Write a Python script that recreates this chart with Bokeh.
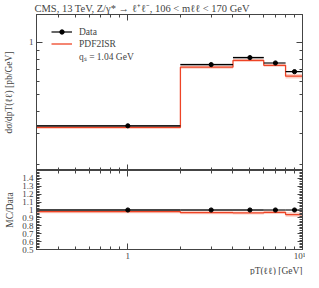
from bokeh.plotting import figure
from bokeh.layouts import column
from bokeh.models import (FixedTicker, LogAxis, LinearAxis, Title, Legend, LegendItem,
                          CustomJSTickFormatter, Range1d)
from bokeh.embed import file_html
from bokeh.resources import INLINE

# ---- data ----
bin_edges = [0.0, 2.0, 4.0, 6.0, 8.0, 10.0]
bin_centers = [1.0, 3.0, 5.0, 7.0, 9.0]
data_vals = [0.333, 0.745, 0.817, 0.761, 0.679]
data_rel_err = [0.012, 0.010, 0.010, 0.004, 0.004]
mc_vals = [0.326, 0.720, 0.787, 0.738, 0.640]
mc_rel_err = [0.02, 0.02, 0.02, 0.02, 0.03]
main_minor_ticks = [0.2, 0.3, 0.4, 0.5, 0.6, 0.7, 0.8, 0.9]
main_major_ticks = [1.0]
x_major_ticks = [1.0, 10.0]
x_minor_ticks = [0.3, 0.4, 0.5, 0.6, 0.7, 0.8, 0.9, 2, 3, 4, 5, 6, 7, 8, 9]
ratio_major_ticks = [0.5, 0.6, 0.7, 0.8, 0.9, 1.0, 1.1, 1.2, 1.3, 1.4]
ratio_minor_ticks = [round(0.5 + 0.02 * i, 2) for i in range(51)]
title_text = "CMS, 13 TeV, Z/γ* → ℓ⁺ℓ⁻, 106 < mℓℓ < 170 GeV"
ylabel_main = "dσ/dpT(ℓℓ) [pb/GeV]"
ylabel_ratio = "MC/Data"
xlabel = "pT(ℓℓ) [GeV]"
legend_labels = ["Data", "PDF2ISR", "qₛ = 1.04 GeV"]

XMIN, XMAX = 0.3, 10.0
RMIN, RMAX = 0.5, 1.5
FONT = "Liberation Serif"
RED = "#ee4426"
PALE = "#fbc4b8"
GREY = "#8a8a8a"
AXC = "#444444"

lo = [max(e, 1e-3) for e in bin_edges[:-1]]
hi = bin_edges[1:]
step_x = [max(e, 1e-3) for e in bin_edges]

x_range = Range1d(XMIN, XMAX)

def style_axis(ax, labels=True, major_in=6, minor_in=3):
    ax.major_tick_in = major_in
    ax.major_tick_out = 0
    ax.minor_tick_in = minor_in
    ax.minor_tick_out = 0
    ax.axis_line_color = AXC
    ax.major_tick_line_color = AXC
    ax.minor_tick_line_color = AXC
    ax.major_label_text_font = FONT
    ax.major_label_text_font_size = "9px"
    ax.major_label_standoff = 3
    if not labels:
        ax.major_label_text_alpha = 0
        ax.major_label_text_font_size = "1px"
        ax.major_label_standoff = 0
    ax.axis_label_text_font = FONT
    ax.axis_label_text_font_size = "9.5px"
    ax.axis_label_text_font_style = "normal"

# ---- main figure ----
p = figure(frame_width=266, frame_height=156, x_axis_type="log", y_axis_type="log",
           x_range=x_range, y_range=(0.185, 1.44), output_backend="svg",
           toolbar_location=None, min_border_left=32, min_border_right=5,
           min_border_top=0, min_border_bottom=0)
p.xgrid.visible = False
p.ygrid.visible = False
p.outline_line_color = AXC
p.title.text = title_text
p.title.align = "left"
p.title.offset = -2
p.title.standoff = 1
p.title.text_font = FONT
p.title.text_font_size = "10.5px"
p.title.text_font_style = "normal"

ylt = FixedTicker(ticks=main_major_ticks, minor_ticks=main_minor_ticks)
xt = FixedTicker(ticks=x_major_ticks, minor_ticks=x_minor_ticks)
p.yaxis.ticker = ylt
p.yaxis.major_label_overrides = {1: "1"}
p.yaxis.axis_label = ylabel_main
style_axis(p.yaxis[0])
p.yaxis.axis_label_standoff = 12
p.xaxis.ticker = xt
style_axis(p.xaxis[0], labels=False)
ra = LogAxis(ticker=ylt)
style_axis(ra, labels=False)
p.add_layout(ra, "right")
ta = LogAxis(ticker=xt)
style_axis(ta, labels=False)
p.add_layout(ta, "above")

mc_lo = [v * (1 - e) for v, e in zip(mc_vals, mc_rel_err)]
mc_hi = [v * (1 + e) for v, e in zip(mc_vals, mc_rel_err)]
p.quad(left=lo, right=hi, bottom=mc_lo, top=mc_hi, fill_color=PALE, line_color=None, fill_alpha=0.8)
d_lo = [v * (1 - e) for v, e in zip(data_vals, data_rel_err)]
d_hi = [v * (1 + e) for v, e in zip(data_vals, data_rel_err)]
p.quad(left=lo, right=hi, bottom=d_lo, top=d_hi, fill_color=GREY, line_color=None)
mc_line = p.step(x=step_x, y=mc_vals + [mc_vals[-1]], mode="after", line_color=RED, line_width=1.3)
d_line = p.segment(x0=lo, x1=hi, y0=data_vals, y1=data_vals, line_color="black", line_width=1.2)
p.segment(x0=bin_centers, x1=bin_centers, y0=d_lo, y1=d_hi, line_color="black", line_width=1)
d_pts = p.scatter(x=bin_centers, y=data_vals, size=4.2, color="black")
dummy = p.scatter(x=[1.0], y=[1.0], size=1, alpha=0)

legend = Legend(items=[LegendItem(label=legend_labels[0], renderers=[d_line, d_pts]),
                       LegendItem(label=legend_labels[1], renderers=[mc_line]),
                       LegendItem(label=legend_labels[2], renderers=[dummy])],
                location=(15, 107), margin=0, padding=3, spacing=1,
                glyph_width=21, glyph_height=11, label_height=11, label_standoff=7,
                label_text_font=FONT, label_text_font_size="9.5px",
                background_fill_alpha=0, border_line_color=None)
p.add_layout(legend)

# ---- ratio figure ----
r = figure(frame_width=266, frame_height=79, x_axis_type="log", x_range=x_range,
           y_range=(RMIN, RMAX), output_backend="svg", toolbar_location=None,
           min_border_left=32, min_border_right=5, min_border_top=0, min_border_bottom=0)
r.xgrid.visible = False
r.ygrid.visible = False
r.outline_line_color = AXC
rt = FixedTicker(ticks=ratio_major_ticks, minor_ticks=ratio_minor_ticks)
r.yaxis.ticker = rt
r.yaxis.formatter = CustomJSTickFormatter(code="return tick.toFixed(1).replace(/\\.0$/, '');")
r.yaxis.axis_label = ylabel_ratio
style_axis(r.yaxis[0], major_in=5, minor_in=3)
r.yaxis.axis_label_standoff = 4
r.xaxis.ticker = xt
r.xaxis.major_label_overrides = {1: "1", 10: "10¹"}
style_axis(r.xaxis[0])
r.xaxis.major_label_standoff = 1
rra = LinearAxis(ticker=rt)
style_axis(rra, labels=False, major_in=5, minor_in=3)
r.add_layout(rra, "right")
rta = LogAxis(ticker=xt)
style_axis(rta, labels=False)
r.add_layout(rta, "above")
r.add_layout(Title(text=xlabel, align="right", standoff=0, text_font=FONT,
                   text_font_size="9.5px", text_font_style="normal"), "below")

ratio = [m / d for m, d in zip(mc_vals, data_vals)]
one = [d / d for d in data_vals]
r.quad(left=lo, right=hi, bottom=[v * (1 - e) for v, e in zip(ratio, mc_rel_err)],
       top=[v * (1 + e) for v, e in zip(ratio, mc_rel_err)], fill_color=PALE, line_color=None, fill_alpha=0.8)
r.quad(left=lo, right=hi, bottom=[1 - e for e in data_rel_err], top=[1 + e for e in data_rel_err],
       fill_color=GREY, line_color=None)
r.step(x=step_x, y=ratio + [ratio[-1]], mode="after", line_color=RED, line_width=1.3)
r.segment(x0=lo, x1=hi, y0=one, y1=one, line_color="black", line_width=1.2)
r.scatter(x=bin_centers, y=one, size=4.2, color="black")

layout = column(p, r, spacing=0)
open("out.html", "w").write(file_html(layout, INLINE))
